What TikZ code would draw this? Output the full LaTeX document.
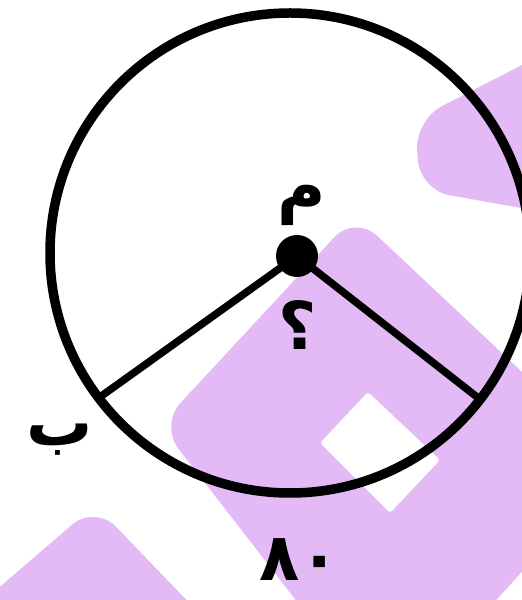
\documentclass[tikz,border=0pt]{standalone}
\usepackage{fontspec}
\newfontfamily\arabicfont[Script=Arabic]{DejaVu Sans}
\TeXXeTstate=1
\definecolor{wmlilac}{HTML}{E3BAF6}
\tikzset{every node/.style={font=\arabicfont\bfseries\fontsize{66}{78}\selectfont},
  rim/.style={draw=black,line width=9.5pt},
  spoke/.style={draw=black,line width=7.5pt,line cap=round},
  hub/.style={circle,fill=black,inner sep=0pt,minimum size=42pt},
  wmark/.style={fill=wmlilac,rounded corners=30pt}}

\begin{document}
\begin{tikzpicture}[x=1pt,y=1pt]
  \path[use as bounding box] (0,0) rectangle (522,600);
  \clip (0,0) rectangle (522,600);
  \fill[white] (0,0) rectangle (522,600);
  % watermark behind the figure
  \fill[wmark] (355,385) -- (620,136) -- (388,-119) -- (160,175) -- cycle;
  \fill[wmark] (-248,-200) -- (95,95) -- (379,-200) -- cycle;
  \fill[wmark] (600,575) -- (415,480) -- (420,410) -- (600,378) -- cycle;
  \fill[white,rounded corners=3pt] (368,208) -- (440,140) -- (390,87) -- (320,157) -- cycle;
  % circle, centre and the two radii
  \draw[rim] (290,347) circle[radius=240pt];
  \node[hub] (m) at (297,344) {};
  \coordinate (b) at (100,203);
  \coordinate (rt) at (477,203);
  \draw[spoke] (m.center) -- (b);
  \draw[spoke] (m.center) -- (rt);
  % labels
  \node (lblm) at (302,395) {\beginR م\endR};
  \node (lblq) at (298,275) {\beginR ؟\endR};
  \node (lblb) at (60,160) {\beginR ب\endR};
  \node (lblarc) at (300,40) {٨٠};
\end{tikzpicture}
\end{document}
